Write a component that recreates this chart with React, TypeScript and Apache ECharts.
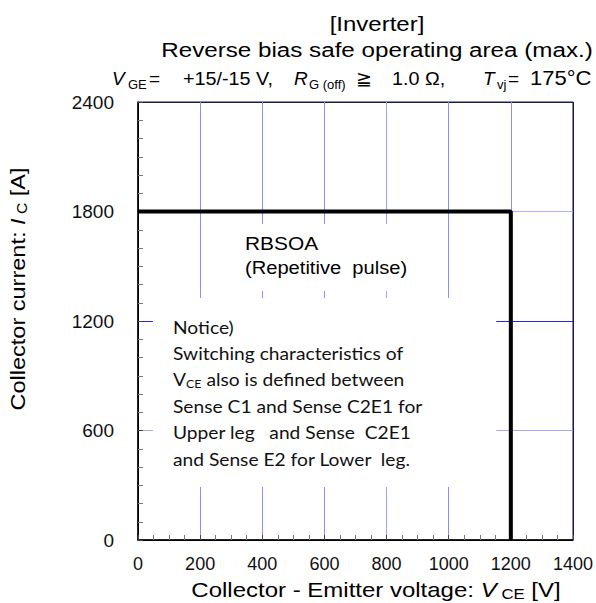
import React, { useEffect, useRef } from "react";
import * as echarts from "echarts";

// Axis ranges and steps
const xRange = [0, 1400];
const xStep = 200;
const yRange = [0, 2400];
const yStep = 600;

// RBSOA boundary (V_CE [V], I_C [A])
const rbsoaVoltage = [0, 1200, 1200];
const rbsoaCurrent = [1800, 1800, 0];

// Annotation texts
const titleLines = ["[Inverter]", "Reverse bias safe operating area (max.)"];
const rbsoaLabel = ["RBSOA", "(Repetitive  pulse)"];
const noticeLines = [
  "Notice)",
  "Switching characteristics of",
  "{v|V}{s|CE}{v| also is defined between}",
  "Sense C1 and Sense C2E1 for",
  "Upper leg   and Sense  C2E1",
  "and Sense E2 for Lower  leg.",
];

const SANS = "'Liberation Sans', Arial, sans-serif";
const NOTE = "Lato, 'Open Sans', sans-serif";

export default function App() {
  const ref = useRef<HTMLDivElement>(null);

  useEffect(() => {
    if (!ref.current) return;
    const chart = echarts.init(ref.current, undefined, { renderer: "svg" });

    const data = rbsoaVoltage.map((v, i) => [v, rbsoaCurrent[i]]);

    const t = (x: number, y: number, text: string, fontSize: number, extra: any = {}, scaleX = 1, align = "left") => ({
      type: "text",
      x,
      y,
      scaleX,
      z: 10,
      style: {
        text,
        fontSize,
        fontFamily: SANS,
        fill: "#000",
        align,
        verticalAlign: "middle",
        ...extra,
      },
    });

    const graphics: any[] = [
      t(377, 24, titleLines[0], 20, {}, 1.2, "center"),
      t(377, 50, titleLines[1], 20, {}, 1.21, "center"),
      // conditions line
      t(112, 78, "V", 19, { fontStyle: "italic" }),
      t(128, 84, "GE", 13),
      t(149, 78, "=", 19),
      t(183, 78, "+15/-15 V,", 19, {}, 1.04),
      t(294, 78, "R", 19, { fontStyle: "italic" }),
      t(309, 84, "G (off)", 13),
      t(356, 78, "≧", 19),
      t(392, 78, "1.0 Ω,", 19, {}, 1.04),
      t(483, 78, "T", 19, { fontStyle: "italic" }),
      t(497, 84, "vj", 13),
      t(508, 78, "=", 19),
      t(530, 78, "175°C", 20, {}, 1.1),
      // RBSOA label
      t(245, 243, rbsoaLabel[0], 19, {}, 1.1),
      t(245, 267, rbsoaLabel[1], 19, {}, 1.06),
      // axis titles
      {
        type: "text",
        x: 376,
        y: 590,
        scaleX: 1.2,
        z: 10,
        style: {
          text: "{a|Collector - Emitter voltage: }{i|V}{s| CE}{a| [V]}",
          align: "center",
          verticalAlign: "middle",
          rich: {
            a: { fontSize: 20, fontFamily: SANS, fill: "#000", lineHeight: 22, verticalAlign: "middle" },
            i: { fontSize: 20, fontFamily: SANS, fontStyle: "italic", fill: "#000", lineHeight: 22, verticalAlign: "middle" },
            s: { fontSize: 14, fontFamily: SANS, fill: "#000", lineHeight: 14, verticalAlign: "bottom" },
          },
        },
      },
      {
        type: "text",
        x: 18,
        y: 289,
        rotation: Math.PI / 2,
        scaleX: 1.12,
        z: 10,
        style: {
          text: "{a|Collector current: }{i|I}{s| C}{a| [A]}",
          align: "center",
          verticalAlign: "middle",
          rich: {
            a: { fontSize: 21, fontFamily: SANS, fill: "#000", lineHeight: 23, verticalAlign: "middle" },
            i: { fontSize: 21, fontFamily: SANS, fontStyle: "italic", fill: "#000", lineHeight: 23, verticalAlign: "middle" },
            s: { fontSize: 14, fontFamily: SANS, fill: "#000", lineHeight: 14, verticalAlign: "bottom" },
          },
        },
      },
    ];

    noticeLines.forEach((line, i) => {
      graphics.push({
        type: "text",
        x: 173,
        y: 327 + i * 26.4,
        scaleX: 1.13,
        z: 10,
        style: {
          text: line,
          fontSize: 17,
          fontFamily: NOTE,
          fill: "#111",
          align: "left",
          verticalAlign: "middle",
          rich: {
            v: { fontSize: 17, fontFamily: NOTE, fill: "#111", lineHeight: 19, verticalAlign: "middle" },
            s: { fontSize: 11, fontFamily: NOTE, fill: "#111", lineHeight: 11, verticalAlign: "bottom" },
          },
        },
      });
    });

    chart.setOption({
      animation: false,
      grid: {
        left: 138,
        top: 102,
        right: 22,
        bottom: 63,
        show: true,
        borderColor: "#1a1a50",
        borderWidth: 1,
      },
      xAxis: {
        type: "value",
        min: xRange[0],
        max: xRange[1],
        interval: xStep,
        axisLine: { show: true, onZero: false, lineStyle: { color: "#000", width: 1.5 } },
        axisTick: { show: true, inside: true, length: 5, lineStyle: { color: "#444" } },
        minorTick: { show: true, splitNumber: 4, length: 5, lineStyle: { color: "#777" } },
        axisLabel: { fontSize: 18, color: "#111", margin: 15, fontFamily: SANS, formatter: (v: number) => String(v) },
        splitLine: {
          show: true,
          lineStyle: {
            color: ["#000", "#8c8cff", "#8c8cff", "#8c8cff", "#a0a0ff", "#8c8cff", "#8c8cff", "#1a1a50"],
            width: 1,
          },
        },
      },
      yAxis: {
        type: "value",
        min: yRange[0],
        max: yRange[1],
        interval: yStep,
        axisLine: { show: true, onZero: false, lineStyle: { color: "#000", width: 1.5 } },
        axisTick: { show: true, inside: true, length: 5, lineStyle: { color: "#444" } },
        minorTick: { show: true, splitNumber: 6, length: 5, lineStyle: { color: "#777" } },
        axisLabel: { fontSize: 19, color: "#111", margin: 24, fontFamily: SANS, formatter: (v: number) => String(v) },
        splitLine: {
          show: true,
          lineStyle: {
            color: ["#000", "#a8a8ff", "#2a2ad0", "#b0b0ff", "#1a1a50"],
            width: 1,
          },
        },
      },
      series: [
        {
          type: "line",
          data,
          symbol: "none",
          z: 5,
          lineStyle: { color: "#000", width: 4 },
          markArea: {
            silent: true,
            itemStyle: { color: "#fff", borderWidth: 0 },
            label: { show: false },
            data: [
              [{ coord: [215, 1731] }, { coord: [990, 1364] }],
              [{ coord: [48, 1326] }, { coord: [1153, 290] }],
            ],
          },
        },
      ],
      graphic: graphics,
    });

    return () => chart.dispose();
  }, []);

  return <div ref={ref} style={{ width: 596, height: 603, position: "absolute", left: 0, top: 0 }} />;
}
